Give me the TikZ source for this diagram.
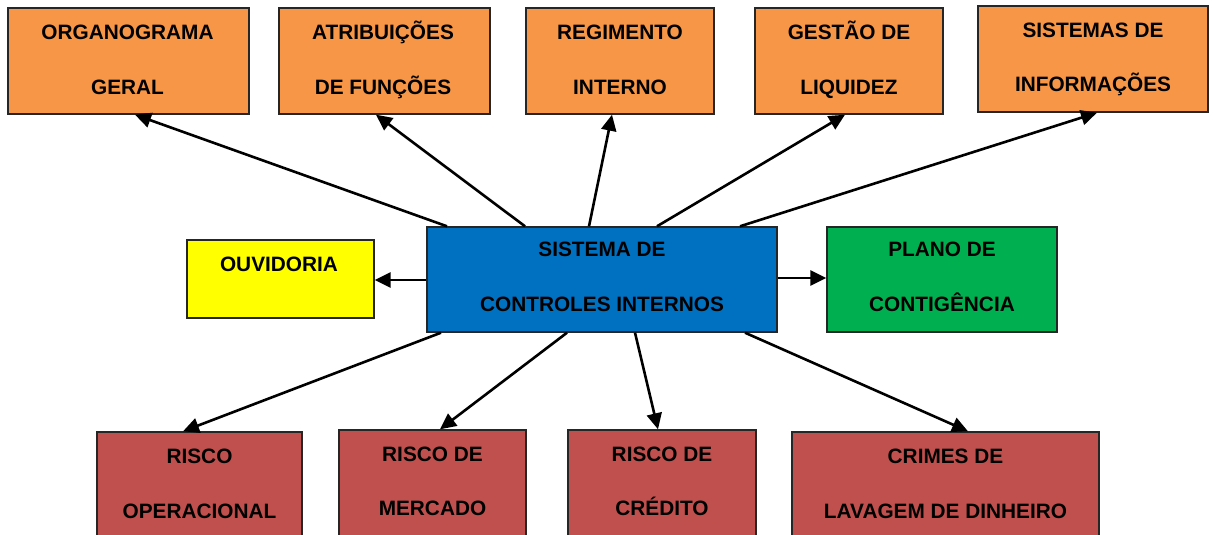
\documentclass[tikz,border=0pt]{standalone}
\usepackage{fontspec}
\setmainfont{Liberation Sans}
\usetikzlibrary{arrows.meta}
\definecolor{orng}{HTML}{F79646}
\definecolor{blu}{HTML}{0070C0}
\definecolor{grn}{HTML}{00B050}
\definecolor{ylw}{HTML}{FFFF00}
\definecolor{rd}{HTML}{C0504D}
\begin{document}
\begin{tikzpicture}[x=1pt,y=-1pt,
  box/.style={draw=black!85,line width=1.4pt,rectangle,inner sep=0pt},
  txt/.style={inner sep=0pt,font=\fontsize{20.8}{24}\selectfont\bfseries,text height=15pt,text depth=0pt},
  arr/.style={line width=2.6pt,-{Triangle[length=16pt,width=15pt]}}]
\clip (0,0) rectangle (1218,535);
\fill[white] (0,0) rectangle (1218,535);
% top row
\node[box,fill=orng,minimum width=241pt,minimum height=106pt] (org) at (128.5,61) {};
\node[txt] (orgA) at (127.5,32) {ORGANOGRAMA};
\node[txt] (orgB) at (127.5,87) {GERAL};
\node[box,fill=orng,minimum width=211pt,minimum height=106pt] (atr) at (384.5,61) {};
\node[txt] (atrA) at (383,32) {ATRIBUIÇÕES};
\node[txt] (atrB) at (383,87) {DE FUNÇÕES};
\node[box,fill=orng,minimum width=188pt,minimum height=106pt] (reg) at (620,61) {};
\node[txt] (regA) at (620,32) {REGIMENTO};
\node[txt] (regB) at (620,87) {INTERNO};
\node[box,fill=orng,minimum width=188pt,minimum height=106pt] (ges) at (849,61) {};
\node[txt] (gesA) at (849,32) {GESTÃO DE};
\node[txt] (gesB) at (849,87) {LIQUIDEZ};
\node[box,fill=orng,minimum width=230pt,minimum height=106pt] (sis) at (1093,59) {};
\node[txt] (sisA) at (1093,30) {SISTEMAS DE};
\node[txt] (sisB) at (1093,84) {INFORMAÇÕES};
% middle row
\node[box,fill=ylw,minimum width=187pt,minimum height=78pt] (ouv) at (280.5,279) {};
\node[txt] (ouvA) at (279,264) {OUVIDORIA};
\node[box,fill=blu,minimum width=350pt,minimum height=105pt] (sci) at (602,279.5) {};
\node[txt] (sciA) at (602,249) {SISTEMA DE};
\node[txt] (sciB) at (602,304) {CONTROLES INTERNOS};
\node[box,fill=grn,minimum width=230pt,minimum height=105pt] (pla) at (942,279.5) {};
\node[txt] (plaA) at (942,249) {PLANO DE};
\node[txt] (plaB) at (942,304) {CONTIGÊNCIA};
% bottom row
\node[box,fill=rd,minimum width=205pt,minimum height=120pt] (rop) at (199.5,492) {};
\node[txt] (ropA) at (199.5,456) {RISCO};
\node[txt] (ropB) at (199.5,511) {OPERACIONAL};
\node[box,fill=rd,minimum width=187pt,minimum height=120pt] (rme) at (432.5,490) {};
\node[txt] (rmeA) at (432.5,454) {RISCO DE};
\node[txt] (rmeB) at (432.5,508) {MERCADO};
\node[box,fill=rd,minimum width=188pt,minimum height=120pt] (rcr) at (662,490) {};
\node[txt] (rcrA) at (662,454) {RISCO DE};
\node[txt] (rcrB) at (662,508) {CRÉDITO};
\node[box,fill=rd,minimum width=307pt,minimum height=120pt] (cri) at (945.5,492) {};
\node[txt] (criA) at (945.5,456) {CRIMES DE};
\node[txt] (criB) at (945.5,511) {LAVAGEM DE DINHEIRO};
% arrows
\draw[arr] (sci.north -| 447,0) -- (org.south -| 135,0);
\draw[arr] (sci.north -| 525,0) -- (atr.south -| 376,0);
\draw[arr] (sci.north -| 589,0) -- (reg.south -| 612,0);
\draw[arr] (sci.north -| 657,0) -- (ges.south -| 845,0);
\draw[arr] (sci.north -| 740,0) -- (sis.south -| 1097,0);
\draw[arr] (sci.west |- 0,280) -- (ouv.east |- 0,280);
\draw[arr] (sci.east |- 0,278) -- (pla.west |- 0,278);
\draw[arr] (sci.south -| 441,0) -- (rop.north -| 183,0);
\draw[arr] (sci.south -| 567,0) -- (rme.north -| 440,0);
\draw[arr] (sci.south -| 635,0) -- (rcr.north -| 658,0);
\draw[arr] (sci.south -| 745,0) -- (cri.north -| 968,0);
\end{tikzpicture}
\end{document}
